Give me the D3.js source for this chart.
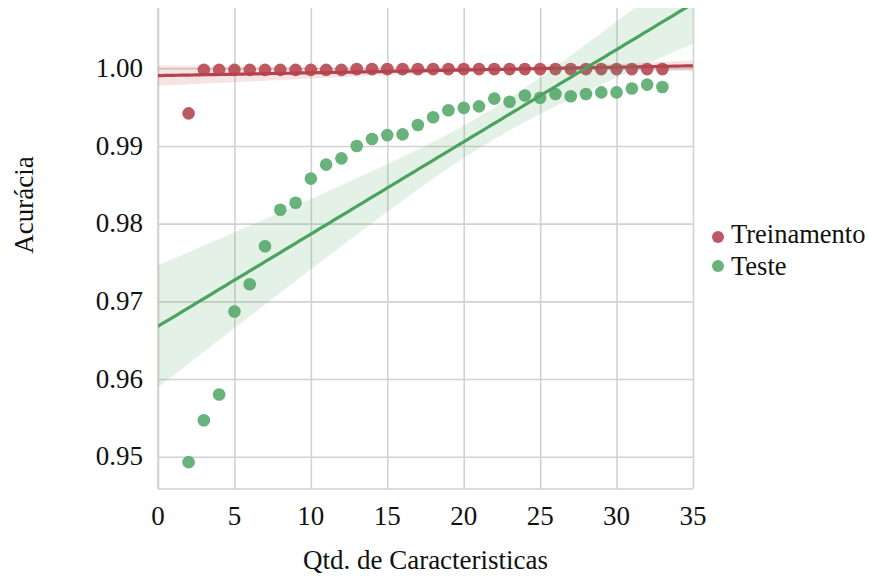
<!DOCTYPE html>
<html>
<head>
<meta charset="utf-8">
<script src="https://cdn.jsdelivr.net/npm/d3@7"></script>
</head>
<body style="margin:0; background:#fff">
<div id="chart"></div>
<script>
// data
const featureCounts = [2, 3, 4, 5, 6, 7, 8, 9, 10, 11, 12, 13, 14, 15, 16, 17,
  18, 19, 20, 21, 22, 23, 24, 25, 26, 27, 28, 29, 30, 31, 32, 33];
const trainAcc = [0.9942, 0.9998, 0.9998, 0.9998, 0.9998, 0.9998, 0.9998, 0.9998,
  0.9998, 0.9998, 0.9998, 0.9999, 0.9999, 0.9999, 0.9999, 0.9999, 0.9999, 0.9999,
  0.9999, 0.9999, 0.9999, 0.9999, 0.9999, 0.9999, 0.9999, 0.9999, 0.9999, 0.9999,
  0.9999, 0.9999, 0.9999, 0.9999];
const testAcc = [0.9493, 0.9547, 0.9580, 0.9687, 0.9722, 0.9771, 0.9818, 0.9827,
  0.9858, 0.9876, 0.9884, 0.9900, 0.9909, 0.9914, 0.9915, 0.9927, 0.9937, 0.9946,
  0.9949, 0.9951, 0.9961, 0.9957, 0.9965, 0.9962, 0.9967, 0.9964, 0.9967, 0.9969,
  0.9969, 0.9974, 0.9979, 0.9976];
const xTicks = [0, 5, 10, 15, 20, 25, 30, 35];
const yTicks = [0.95, 0.96, 0.97, 0.98, 0.99, 1.00];
const seriesNames = ["Treinamento", "Teste"];

const width = 869;
const height = 576;
const margin = { top: 8, right: 176, bottom: 87, left: 158 };
const ink = "#111";

// every text goes through here so the serif face is set the same way each time
function setFont(sel, size) {
  return sel.style("font-family", () => '"Liberation Serif"').attr("font-size", size).attr("fill", ink);
}

const svg = d3.select("#chart").append("svg")
  .attr("width", width)
  .attr("height", height);

const x = d3.scaleLinear().domain([0, 35]).range([margin.left, width - margin.right]);
const y = d3.scaleLinear().domain([0.945842, 1.007763]).range([height - margin.bottom, margin.top]);

// grid
svg.append("g")
  .attr("transform", `translate(0,${height - margin.bottom})`)
  .call(d3.axisBottom(x).tickValues(xTicks).tickSize(-(height - margin.top - margin.bottom)).tickFormat(""))
  .call(g => g.select(".domain").remove())
  .call(g => g.selectAll("line").attr("stroke", "#d2d2d2").attr("stroke-width", 1.6));
svg.append("g")
  .attr("transform", `translate(${margin.left},0)`)
  .call(d3.axisLeft(y).tickValues(yTicks).tickSize(-(width - margin.left - margin.right)).tickFormat(""))
  .call(g => g.select(".domain").remove())
  .call(g => g.selectAll("line").attr("stroke", "#d2d2d2").attr("stroke-width", 1.6));

// spines (left + bottom only)
svg.append("line")
  .attr("x1", margin.left).attr("x2", margin.left)
  .attr("y1", margin.top).attr("y2", height - margin.bottom)
  .attr("stroke", "#d2d2d2").attr("stroke-width", 1.6);
svg.append("line")
  .attr("x1", margin.left).attr("x2", width - margin.right)
  .attr("y1", height - margin.bottom).attr("y2", height - margin.bottom)
  .attr("stroke", "#d2d2d2").attr("stroke-width", 1.6);

// tick labels, written by hand from the scales so no axis font attributes get in the way
svg.append("g").selectAll("text")
  .data(xTicks)
  .join("text")
  .attr("x", d => x(d))
  .attr("y", height - margin.bottom + 36)
  .attr("text-anchor", "middle")
  .call(setFont, 27)
  .text(d => d3.format("d")(d));
svg.append("g").selectAll("text")
  .data(yTicks)
  .join("text")
  .attr("x", margin.left - 15)
  .attr("y", d => y(d))
  .attr("dy", "0.32em")
  .attr("text-anchor", "end")
  .call(setFont, 27)
  .text(d => d3.format(".2f")(d));

// axis titles
svg.append("text")
  .attr("x", (margin.left + width - margin.right) / 2)
  .attr("y", 569)
  .attr("text-anchor", "middle")
  .call(setFont, 27)
  .text("Qtd. de Caracteristicas");
svg.append("text")
  .attr("transform", "translate(33,205) rotate(-90)")
  .attr("text-anchor", "middle")
  .call(setFont, 27)
  .text("Acurácia");

// linear fit with a heteroscedasticity-robust 95% band
function fitLine(xs, ys) {
  const n = xs.length;
  const mx = d3.mean(xs), my = d3.mean(ys);
  const sxx = d3.sum(xs, v => (v - mx) ** 2);
  const sxy = d3.sum(xs, (v, i) => (v - mx) * (ys[i] - my));
  const b = sxy / sxx, a = my - b * mx;
  const res = xs.map((v, i) => ys[i] - (a + b * v));
  const grid = d3.range(0, 35.001, 0.25);
  return grid.map(x0 => {
    const fit = a + b * x0;
    const v = d3.sum(xs, (xi, i) => {
      const w = 1 / n + (x0 - mx) * (xi - mx) / sxx;
      return w * w * res[i] * res[i];
    });
    const se = Math.sqrt(v);
    return { x: x0, fit, lo: fit - 1.96 * se, hi: fit + 1.96 * se };
  });
}

svg.append("clipPath").attr("id", "plot-clip")
  .append("rect")
  .attr("x", margin.left).attr("y", margin.top)
  .attr("width", width - margin.left - margin.right)
  .attr("height", height - margin.top - margin.bottom);

const plot = svg.append("g").attr("clip-path", "url(#plot-clip)");

const series = [
  { name: seriesNames[0], values: trainAcc, dot: "#bd5963", line: "#b4434e", band: "rgba(196,78,82,0.16)" },
  { name: seriesNames[1], values: testAcc, dot: "#68b27b", line: "#4ba35e", band: "rgba(85,168,104,0.16)" }
];

const area = d3.area().x(d => x(d.x)).y0(d => y(d.lo)).y1(d => y(d.hi));
const line = d3.line().x(d => x(d.x)).y(d => y(d.fit));

series.forEach(s => {
  plot.append("g").selectAll("circle")
    .data(featureCounts)
    .join("circle")
    .attr("cx", d => x(d))
    .attr("cy", (d, i) => y(s.values[i]))
    .attr("r", 6.3)
    .attr("fill", s.dot);
  const fit = fitLine(featureCounts, s.values);
  plot.append("path").datum(fit).attr("d", area).attr("fill", s.band);
  plot.append("path").datum(fit).attr("d", line)
    .attr("fill", "none").attr("stroke", s.line).attr("stroke-width", 3.2);
});

// legend
const legend = svg.append("g");
series.forEach((s, i) => {
  legend.append("circle").attr("cx", 718).attr("cy", 237 + i * 29).attr("r", 6).attr("fill", s.dot);
  legend.append("text").attr("x", 731).attr("y", 243 + i * 32)
    .call(setFont, 26.5)
    .text(s.name);
});
</script>
</body>
</html>
